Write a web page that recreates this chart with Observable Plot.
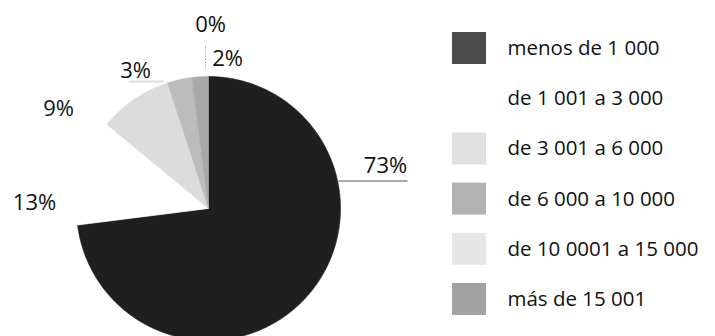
<!DOCTYPE html>
<html><head><meta charset="utf-8">
<script src="https://cdn.jsdelivr.net/npm/d3@7"></script>
<script src="https://cdn.jsdelivr.net/npm/@observablehq/plot@0.6"></script>
<style>body{margin:0;background:#fff} svg{display:block}</style>
</head><body><div id="chart"></div>
<script>
// ---- data ----
const categories = ["menos de 1 000", "de 1 001 a 3 000", "de 3 001 a 6 000", "de 6 000 a 10 000", "de 10 0001 a 15 000", "más de 15 001"];
const shares = [73, 13, 9, 3, 0, 2];
const shareLabels = ["73%", "13%", "9%", "3%", "0%", "2%"];

// ---- styles / layout ----
const pieColors = ["#1f1f1f", "#ffffff", "#dcdcdc", "#bcbcbc", "#e6e6e6", "#a8a8a8"];
const swatchColors = ["#4b4b4b", "#ffffff", "#e0e0e0", "#b2b2b2", "#e6e6e6", "#a2a2a2"];
const W = 715, H = 336, CX = 208, CY = 208, R = 132;
const labelPos = [[385, 165], [34, 202], [58, 108], [135, 70], [210, 24], [227, 58]];
const leaders = [
  {x1: 338, y1: 180.5, x2: 407, y2: 180.5, stroke: "#555", w: 1, dash: null},
  {x1: 128, y1: 81, x2: 163, y2: 81, stroke: "#dedede", w: 2, dash: null},
  {x1: 205, y1: 46, x2: 205, y2: 68, stroke: "#aaa", w: 1, dash: "1.5,1.5"}
];
const LEG_X = 452, LEG_SW = 34, LEG_SH = 32, LEG_Y0 = 48, LEG_STEP = 50.2, LEG_TX = 507;

// ---- geometry from data ----
const arcs = d3.pie().sort(null).value(d => d.v)(categories.map((c, i) => ({c, v: shares[i]})));
const slicePts = [];
arcs.forEach(a => {
  const span = a.endAngle - a.startAngle;
  if (span <= 0) return;
  const n = Math.max(2, Math.ceil(span / 0.01));
  slicePts.push({c: a.data.c, x: CX, y: CY});
  for (let k = 0; k <= n; k++) {
    const t = a.startAngle + span * k / n;
    slicePts.push({c: a.data.c, x: CX + R * Math.sin(t), y: CY - R * Math.cos(t)});
  }
  slicePts.push({c: a.data.c, x: CX, y: CY});
});
const labels = categories.map((c, i) => ({t: shareLabels[i], x: labelPos[i][0], y: labelPos[i][1]}));
const rows = categories.map((c, i) => ({c, y: LEG_Y0 + i * LEG_STEP}));

const plot = Plot.plot({
  width: W, height: H, margin: 0,
  x: {domain: [0, W], range: [0, W], axis: null},
  y: {domain: [0, H], range: [0, H], axis: null},
  color: {type: "ordinal", domain: categories, range: pieColors},
  style: {fontFamily: "'Open Sans', 'Noto Sans', sans-serif", color: "#111", background: "#fff"},
  marks: [
    Plot.line(slicePts, {x: "x", y: "y", z: "c", fill: "c", stroke: "c", strokeWidth: 0.6}),
    ...leaders.map(l => Plot.link([l], {x1: "x1", y1: "y1", x2: "x2", y2: "y2", stroke: l.stroke, strokeWidth: l.w, strokeDasharray: l.dash})),
    Plot.text(labels, {x: "x", y: "y", text: "t", fontSize: 22, fontWeight: 500, fill: "#111", textAnchor: "middle", lineAnchor: "middle"}),
    ...rows.map((r, i) => Plot.rect([r], {x1: LEG_X, x2: LEG_X + LEG_SW, y1: d => d.y - LEG_SH / 2, y2: d => d.y + LEG_SH / 2, fill: swatchColors[i]})),
    Plot.text(rows, {x: LEG_TX, y: "y", text: "c", fontSize: 20.5, fontWeight: 500, fill: "#111", textAnchor: "start", lineAnchor: "middle"})
  ]
});
document.getElementById("chart").append(plot);
</script>
</body></html>
